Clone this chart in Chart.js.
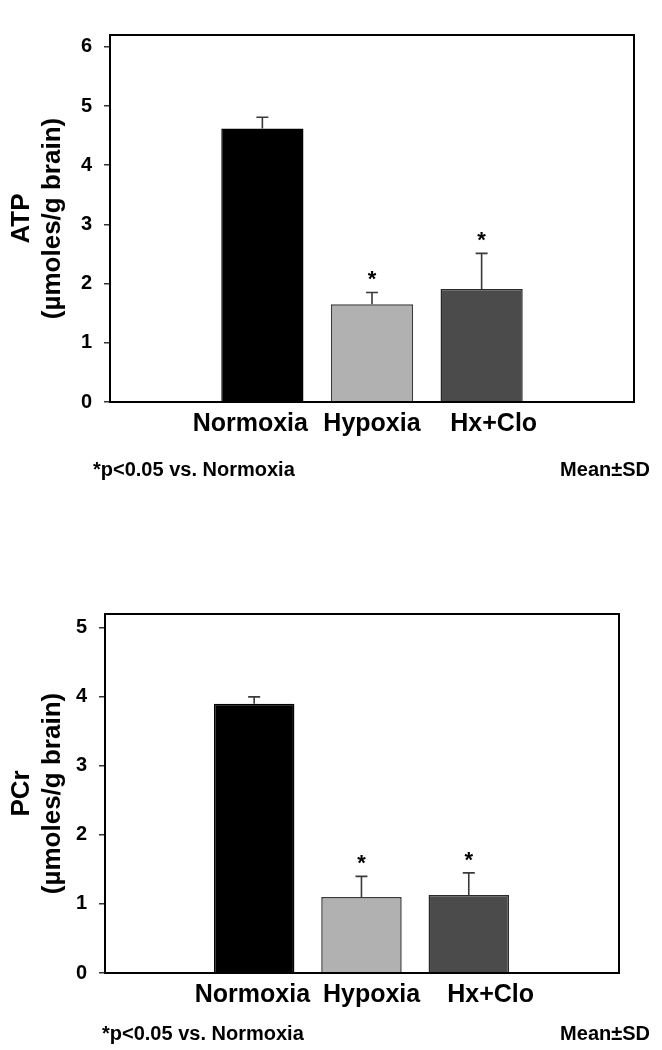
<!DOCTYPE html>
<html><head><meta charset="utf-8">
<script src="https://cdn.jsdelivr.net/npm/chart.js@4.4.1/dist/chart.umd.min.js"></script>
<style>
html,body{margin:0;padding:0;background:#fff;}
#wrap{position:relative;width:662px;height:1050px;overflow:hidden;}
canvas{position:absolute;left:0;}
#c1{top:0;}
#c2{top:520px;}
</style></head><body>
<div id="wrap">
<canvas id="c1" width="662" height="520"></canvas>
<canvas id="c2" width="662" height="530"></canvas>
</div>
<script>
// ---- data ----
const categories = ['Normoxia', 'Hypoxia', 'Hx+Clo'];
const atpMean = [4.62, 1.65, 1.91];
const atpSD   = [0.19, 0.20, 0.60];
const pcrMean = [3.90, 1.10, 1.13];
const pcrSD   = [0.10, 0.30, 0.32];
const significant = [false, true, true];
const atpTicks = [0, 1, 2, 3, 4, 5, 6];
const pcrTicks = [0, 1, 2, 3, 4, 5];
const unitLabel = '(µmoles/g brain)';
const noteLeft = '*p<0.05 vs. Normoxia';
const noteRight = 'Mean±SD';

// ---- styling ----
const FAM = '"Liberation Sans", Arial, Helvetica, sans-serif';
const barFill = ['#000000', '#b1b1b1', '#4b4b4b'];
const barEdge = ['#000000', '#3a3a3a', '#2a2a2a'];

const deco = {
  id: 'deco',
  afterDatasetsDraw(chart, args, o) {
    const {ctx, chartArea: a, scales: {y}} = chart;
    const meta = chart.getDatasetMeta(0);
    ctx.save();
    meta.data.forEach((el, i) => {
      const top = y.getPixelForValue(o.means[i] + o.sds[i]);
      ctx.strokeStyle = '#3a3a3a';
      ctx.lineWidth = 1.6;
      ctx.beginPath();
      ctx.moveTo(el.x, el.y); ctx.lineTo(el.x, top);
      ctx.moveTo(el.x - 6, top); ctx.lineTo(el.x + 6, top);
      ctx.stroke();
      if (o.sig[i]) {
        ctx.fillStyle = '#000';
        ctx.font = 'bold 22px ' + FAM;
        ctx.textAlign = 'center';
        ctx.textBaseline = 'alphabetic';
        ctx.fillText('*', el.x, top - 6);
      }
    });
    ctx.lineWidth = 2;
    ctx.strokeStyle = '#000';
    ctx.strokeRect(a.left, a.top, a.right - a.left, a.bottom - a.top);
    ctx.fillStyle = '#000';
    ctx.font = 'bold 20px ' + FAM;
    ctx.textBaseline = 'alphabetic';
    ctx.textAlign = 'left';
    ctx.fillText(noteLeft, o.noteX, o.noteY);
    ctx.textAlign = 'right';
    ctx.fillText(noteRight, 650, o.noteY);
    ctx.restore();
  }
};

function make(id, cfg) {
  const A = cfg.area;
  return new Chart(document.getElementById(id), {
    type: 'bar',
    data: {
      datasets: [{
        data: cfg.means.map((m, i) => ({x: i, y: m})),
        backgroundColor: barFill,
        borderColor: barEdge,
        borderWidth: 1.5,
        categoryPercentage: 0.75,
        barPercentage: 1.0
      }]
    },
    options: {
      responsive: false,
      animation: false,
      events: [],
      layout: {padding: {left: 0, top: A.top, right: 662 - A.right, bottom: 0}},
      plugins: {
        legend: {display: false},
        tooltip: {enabled: false},
        deco: {means: cfg.means, sds: cfg.sds, sig: significant, noteX: cfg.noteX, noteY: cfg.noteY}
      },
      scales: {
        x: {
          type: 'linear',
          min: cfg.xMin, max: cfg.xMax,
          offset: false,
          afterBuildTicks: s => { s.ticks = categories.map((c, i) => ({value: cfg.labelCenter + (i - 1) * cfg.labelSpread})); },
          afterFit: s => { s.height = A.h - A.bottom; },
          ticks: {
            callback: (v, i) => categories[i],
            font: {family: FAM, size: 25, weight: 'bold'},
            color: '#000', padding: 7, maxRotation: 0, minRotation: 0, autoSkip: false
          },
          grid: {display: false, drawTicks: false},
          border: {display: true, color: '#000', width: 2}
        },
        y: {
          min: 0, max: cfg.yMax,
          afterBuildTicks: s => { s.ticks = cfg.ticks.map(v => ({value: v})); },
          afterFit: s => { s.width = A.left; },
          ticks: {font: {family: FAM, size: 20, weight: 'bold'}, color: '#000', padding: 12},
          grid: {drawOnChartArea: false, drawTicks: true, tickLength: 6, color: '#333', lineWidth: 1.5},
          border: {display: true, color: '#000', width: 2},
          title: {
            display: true,
            text: [cfg.title, unitLabel],
            font: {family: FAM, size: 26, weight: 'bold'},
            color: '#000',
            padding: {top: 6, bottom: 0}
          }
        }
      }
    },
    plugins: [deco]
  });
}

make('c1', {
  means: atpMean, sds: atpSD, ticks: atpTicks, yMax: 6.2, title: 'ATP',
  area: {left: 110, right: 634, top: 35, bottom: 402, h: 520},
  xMin: -1.39, xMax: 3.39, labelCenter: 1.0, labelSpread: 1.11,
  noteX: 93, noteY: 476
});
make('c2', {
  means: pcrMean, sds: pcrSD, ticks: pcrTicks, yMax: 5.2, title: 'PCr',
  area: {left: 105, right: 619, top: 94, bottom: 453, h: 530},
  xMin: -1.39, xMax: 3.40, labelCenter: 1.094, labelSpread: 1.11,
  noteX: 102, noteY: 520
});
</script>
</body></html>
